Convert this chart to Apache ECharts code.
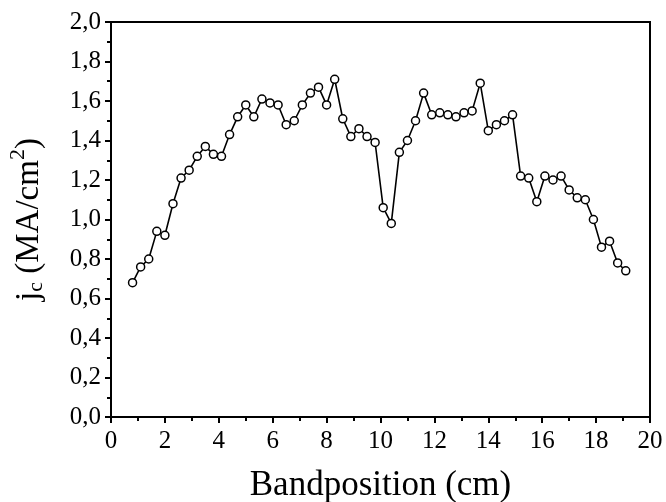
<!DOCTYPE html>
<html>
<head>
<meta charset="utf-8">
<script src="https://cdn.jsdelivr.net/npm/echarts@6/dist/echarts.min.js"></script>
<style>
html,body{margin:0;padding:0;background:#fff;}
#chart{width:666px;height:502px;}
</style>
</head>
<body>
<div id="chart"></div>
<script>
const positions = [0.8,1.1,1.4,1.7,2.0,2.3,2.6,2.9,3.2,3.5,3.8,4.1,4.4,4.7,5.0,5.3,5.6,5.9,6.2,6.5,
  6.8,7.1,7.4,7.7,8.0,8.3,8.6,8.9,9.2,9.5,9.8,10.1,10.4,10.7,11.0,11.3,11.6,11.9,12.2,12.5,
  12.8,13.1,13.4,13.7,14.0,14.3,14.6,14.9,15.2,15.5,15.8,16.1,16.4,16.7,17.0,17.3,17.6,17.9,18.2,18.5,
  18.8,19.1];
const jc = [0.68,0.76,0.80,0.94,0.92,1.08,1.21,1.25,1.32,1.37,1.33,1.32,1.43,1.52,1.58,1.52,1.61,1.59,1.58,1.48,
  1.50,1.58,1.64,1.67,1.58,1.71,1.51,1.42,1.46,1.42,1.39,1.06,0.98,1.34,1.40,1.50,1.64,1.53,1.54,1.53,
  1.52,1.54,1.55,1.69,1.45,1.48,1.50,1.53,1.22,1.21,1.09,1.22,1.20,1.22,1.15,1.11,1.10,1.00,0.86,0.89,
  0.78,0.74];
const xTitle = 'Bandposition (cm)';

const chart = echarts.init(document.getElementById('chart'), null, {renderer:'canvas'});
const font = '"Liberation Serif", "Times New Roman", serif';
chart.setOption({
  animation: false,
  backgroundColor: '#fff',
  grid: {left: 111, right: 16, top: 22, bottom: 85, containLabel: false, outerBoundsMode: 'none',
    show: true, borderColor: '#000', borderWidth: 2, backgroundColor: 'transparent'},
  xAxis: {
    type: 'value', min: 0, max: 20, interval: 2,
    axisLine: {show: true, lineStyle: {color: '#000', width: 2}},
    axisTick: {show: true, inside: false, length: 6, lineStyle: {color: '#000', width: 2}},
    minorTick: {show: true, splitNumber: 2, length: 4, lineStyle: {color: '#000', width: 2}},
    splitLine: {show: false},
    axisLabel: {color: '#000', fontFamily: font, fontSize: 25, margin: 12},
    name: xTitle, nameLocation: 'middle', nameGap: 51,
    nameTextStyle: {color: '#000', fontFamily: font, fontSize: 35}
  },
  yAxis: {
    type: 'value', min: 0, max: 2, interval: 0.2,
    axisLine: {show: true, lineStyle: {color: '#000', width: 2}},
    axisTick: {show: true, inside: false, length: 6, lineStyle: {color: '#000', width: 2}},
    minorTick: {show: true, splitNumber: 2, length: 4, lineStyle: {color: '#000', width: 2}},
    splitLine: {show: false},
    axisLabel: {color: '#000', fontFamily: font, fontSize: 25, margin: 10,
      formatter: v => v.toFixed(1).replace('.', ',')},
    name: '{m|j}{s|c}{m| (MA/cm}{p|2}{m|)}', nameLocation: 'middle', nameGap: 60, nameRotate: 90,
    nameTextStyle: {color: '#000', fontFamily: font, fontSize: 33,
      rich: {
        m: {fontFamily: font, fontSize: 33, color: '#000'},
        s: {fontFamily: font, fontSize: 22, color: '#000', padding: [15, 0, 0, 0]},
        p: {fontFamily: font, fontSize: 22, color: '#000', padding: [0, 0, 22, 0]}
      }
    }
  },
  series: [{
    type: 'line',
    data: positions.map((x, i) => [x, jc[i]]),
    symbol: 'circle', symbolSize: 8,
    itemStyle: {color: '#fff', borderColor: '#000', borderWidth: 1.5},
    lineStyle: {color: '#000', width: 1.6},
    z: 3
  }]
});
</script>
</body>
</html>
